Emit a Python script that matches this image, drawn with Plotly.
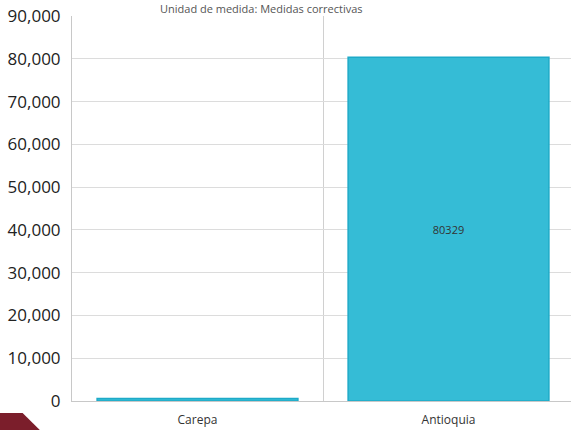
import plotly.graph_objects as go

categories = ["Carepa", "Antioquia"]
values = [600, 80329]
y_ticks = [0, 10000, 20000, 30000, 40000, 50000, 60000, 70000, 80000, 90000]
title_text = "Unidad de medida: Medidas correctivas"

fig = go.Figure()
fig.add_trace(go.Bar(
    x=categories,
    y=values,
    width=0.80,
    marker=dict(color="#35BCD6", line=dict(color="#1EAAC8", width=1.5)),
    text=[str(v) for v in values],
    texttemplate="%{text}",
    textposition="inside",
    insidetextanchor="middle",
    textfont=dict(family="Open Sans", size=11, color="#333333"),
    hoverinfo="skip",
))

fig.update_layout(
    width=571, height=430,
    margin=dict(l=72, r=0, t=16, b=29),
    paper_bgcolor="white", plot_bgcolor="white",
    showlegend=False,
    uniformtext=dict(minsize=10, mode="hide"),
    xaxis=dict(
        type="category",
        range=[-0.5, 1.488],
        tickson="boundaries", ticks="", showgrid=True,
        gridcolor="#D0D0D0", gridwidth=1,
        showline=True, linecolor="#C8C8C8", linewidth=1,
        ticklabelstandoff=8,
        tickfont=dict(family="Open Sans", size=12, color="#333333"),
        zeroline=False, automargin=False,
    ),
    yaxis=dict(
        range=[0, 90000],
        tickvals=y_ticks, tickformat=",",
        showgrid=True, gridcolor="#DCDCDC", gridwidth=1,
        showline=True, linecolor="#C8C8C8", linewidth=1,
        zeroline=False, ticks="", ticklen=0,
        ticklabelstandoff=7,
        tickfont=dict(family="Open Sans", size=17, color="#222222"),
        automargin=False,
    ),
    font=dict(family="Open Sans"),
)

fig.add_annotation(
    text=title_text, xref="paper", yref="paper", x=0.38, y=1,
    xanchor="center", yanchor="bottom", yshift=-2, showarrow=False,
    font=dict(family="Open Sans", size=11, color="#555555"),
)

# decorative dark-red corner shape
fig.add_shape(
    type="path", xref="paper", yref="paper",
    path="M -0.145 -0.031 L -0.099 -0.031 L -0.064 -0.076 L -0.145 -0.076 Z",
    fillcolor="#7B1E2B", line=dict(width=0), layer="above",
)

fig.write_html("out.html", config={"displayModeBar": False},
               post_script="document.body.style.margin='0';")
